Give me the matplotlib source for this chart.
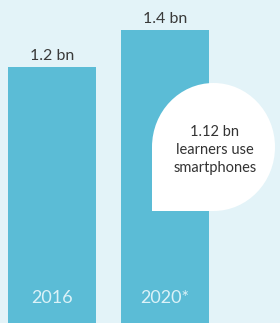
import numpy as np
import matplotlib.pyplot as plt
from matplotlib.path import Path
from matplotlib.patches import PathPatch

years = ['2016', '2020*']
users_bn = [1.2, 1.4]
value_labels = ['1.2 bn', '1.4 bn']
bubble_text = '1.12 bn\nlearners use\nsmartphones'

bg = '#e3f3f8'
bar_color = '#5bbcd6'

plt.rcParams['font.family'] = ['Lato', 'DejaVu Sans']

fig = plt.figure(figsize=(2.8, 3.23), dpi=100)
fig.patch.set_facecolor(bg)
ax = fig.add_axes([0, 0, 1, 1])
ax.set_facecolor(bg)

x = np.arange(len(years))
y_lo, y_hi = -0.184, 1.562
ax.set_xlim(-0.46, 2.018)
ax.set_ylim(y_lo, y_hi)

bars = ax.bar(x, np.array(users_bn) - y_lo, bottom=y_lo, width=0.779,
              color=bar_color, edgecolor='none')

for xi, v, lab, yr in zip(x, users_bn, value_labels, years):
    ax.annotate(lab, (xi, v), xytext=(0, 3), textcoords='offset points',
                ha='center', va='bottom', fontsize=11.5, color='#3a3a3a')
    ax.annotate(yr, (xi, y_lo), xytext=(0, 12), textcoords='offset points',
                ha='center', va='bottom', fontsize=13, color='#dcf2f8')

# speech bubble (axes fraction coords), sharp bottom-left corner
W, H = 280.0, 323.0
x0, x1 = 152 / W, 275 / W
y0, y1 = 1 - 211 / H, 1 - 83 / H
rx = (x1 - x0) / 2
ry = (y1 - y0) / 2
k = 0.5523
verts = [
    (x0, y0),
    (x0 + rx, y0),
    (x0 + rx + k * rx, y0), (x1, y0 + ry - k * ry), (x1, y0 + ry),
    (x1, y0 + ry + k * ry), (x0 + rx + k * rx, y1), (x0 + rx, y1),
    (x0 + rx - k * rx, y1), (x0, y0 + ry + k * ry), (x0, y0 + ry),
    (x0, y0),
]
codes = [Path.MOVETO, Path.LINETO,
         Path.CURVE4, Path.CURVE4, Path.CURVE4,
         Path.CURVE4, Path.CURVE4, Path.CURVE4,
         Path.CURVE4, Path.CURVE4, Path.CURVE4,
         Path.CLOSEPOLY]
ax.add_patch(PathPatch(Path(verts, codes), transform=ax.transAxes,
                       facecolor='white', edgecolor='none', zorder=3))
ax.text(215 / W, 1 - 150 / H, bubble_text, transform=ax.transAxes,
        ha='center', va='center', fontsize=10.5, color='#333333',
        linespacing=1.4, zorder=4)

ax.axis('off')
fig.savefig('out.png', dpi=100, facecolor=bg)
